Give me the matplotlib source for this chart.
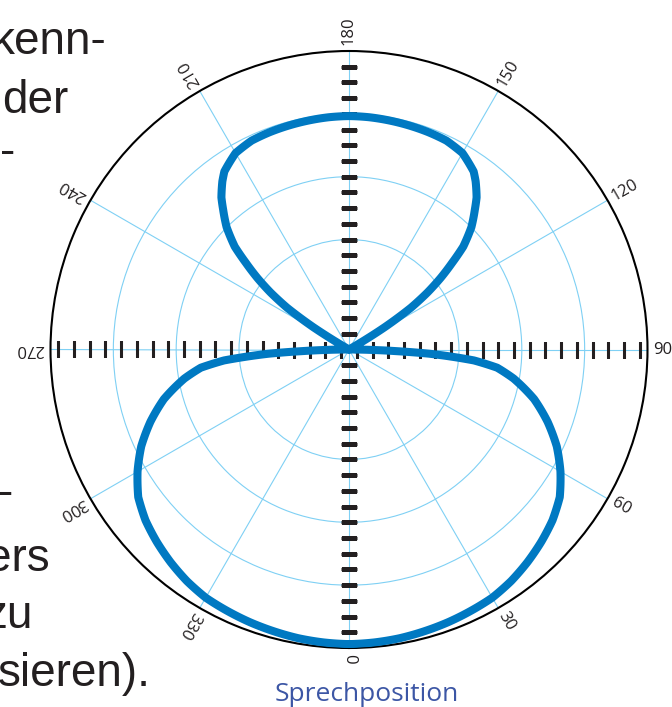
import numpy as np
import matplotlib.pyplot as plt

# polar pattern, one half (0 = speaking position), level as fraction of outer ring
angle_deg = [0, 5, 10, 15, 20, 25, 30, 35, 40, 45, 50, 55, 60, 65, 70, 75, 80,
             83, 85, 87, 88, 89, 90, 120, 121, 122, 124, 126, 128, 130, 132,
             135, 138, 140, 143, 145, 150, 155, 160, 165, 170, 175, 180]
level = [0.987, 0.985, 0.982, 0.977, 0.972, 0.966, 0.960, 0.947, 0.930, 0.911,
         0.890, 0.862, 0.818, 0.768, 0.708, 0.642, 0.560, 0.500, 0.420, 0.270,
         0.160, 0.070, 0.0, 0.0, 0.070, 0.140, 0.250, 0.325, 0.390, 0.450,
         0.515, 0.580, 0.630, 0.665, 0.705, 0.728, 0.760, 0.772, 0.775, 0.777,
         0.779, 0.781, 0.782]

angle_labels = [0, 30, 60, 90, 120, 150, 180, 210, 240, 270, 300, 330]
ring_steps = [7, 11, 15]     # rings, counted in tick steps
n_steps = 19                 # tick steps from centre to outer ring

page_text = [("kenn-", 107, 54), ("der", 68, 113), ("-", 15, 165),
             ("-", 13, 506), ("ers", 50, 571), ("zu", 32, 628),
             ("sieren).", 151, 686)]

blue = '#0079c2'
grid_blue = '#7fd0f4'
ink = '#231f20'

W, H = 672, 707
cx, cy, R = 349, 349.5, 298.5

fig = plt.figure(figsize=(W / 100, H / 100), dpi=100)
ax = fig.add_axes([(cx - R) / W, (H - cy - R) / H, 2 * R / W, 2 * R / H],
                  projection='polar')
ax.set_theta_zero_location('S')
ax.set_theta_direction(1)
ax.set_ylim(0, 1)

ax.set_thetagrids(angle_labels, labels=[])
ax.set_rgrids([s / n_steps for s in ring_steps], labels=[])
ax.grid(True, color=grid_blue, lw=0.8)
ax.spines['polar'].set_color('black')
ax.spines['polar'].set_linewidth(1.5)
ax.tick_params(length=0)

# dashes along the axes
step = 1.0 / n_steps
r_v = np.arange(1, n_steps) * step
r_h = (np.arange(0, n_steps) + 0.5) * step
for a in (0, 180):
    ax.plot(np.full(len(r_v), np.radians(a)), r_v, ls='none', marker='_',
            ms=11.5, mew=2.3, color=ink, zorder=3)
for a in (90, 270):
    ax.plot(np.full(len(r_h), np.radians(a)), r_h, ls='none', marker='|',
            ms=12, mew=2.2, color=ink, zorder=3)

# curve
a = np.array(angle_deg, dtype=float)
lv = np.array(level)
theta = np.radians(np.concatenate([a, 360 - a[::-1]]))
rr = np.concatenate([lv, lv[::-1]])
line, = ax.plot(theta, rr, color=blue, lw=5.8, solid_joinstyle='round',
                zorder=4)
line.get_path()._interpolation_steps = 16   # draw segments along polar arcs

for lab in angle_labels:
    ax.text(np.radians(lab), 1.02, str(lab), rotation=lab - 90,
            rotation_mode='anchor', ha='left', va='center', fontsize=12,
            family='Open Sans', color=ink)

fig.text(366.5 / W, (H - 701) / H, "Sprechposition", ha='center',
         va='baseline', fontsize=19, family='Open Sans', color='#3c56a5')

for s, xr, yb in page_text:
    fig.text(xr / W, (H - yb) / H, s, ha='right', va='baseline',
             fontsize=33, family='Liberation Sans', color=ink)

fig.savefig('out.png', dpi=100)
